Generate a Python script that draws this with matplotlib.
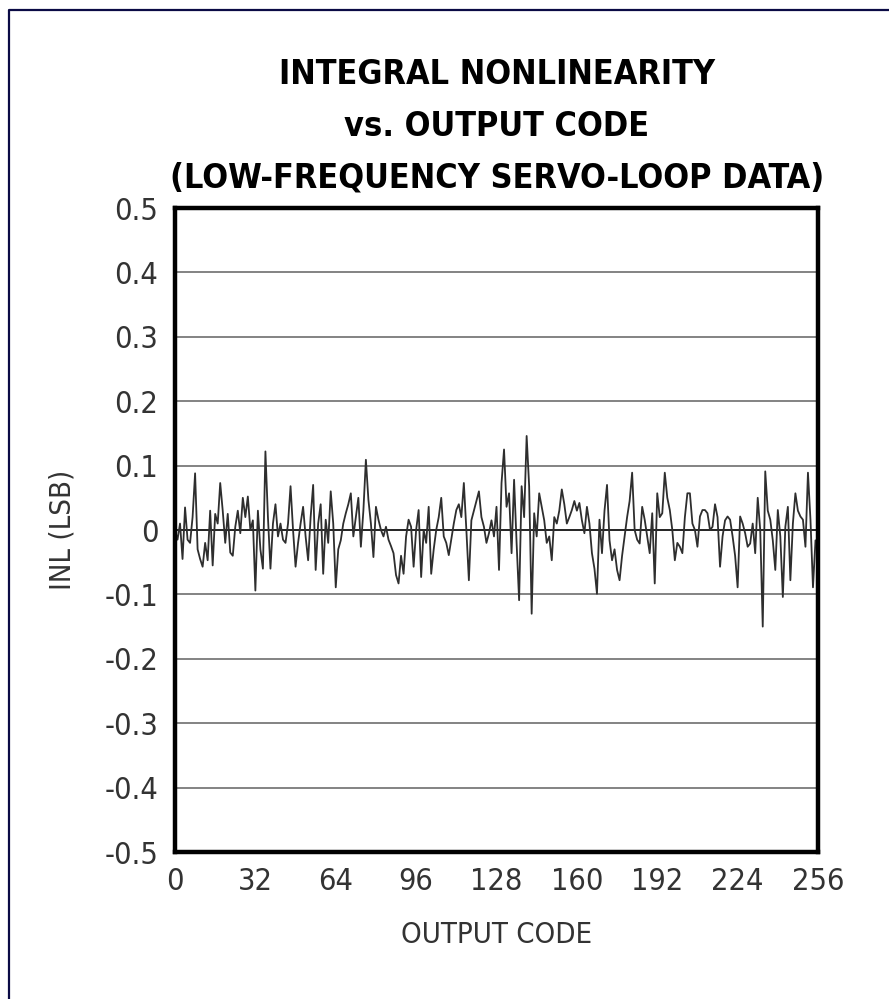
import matplotlib
matplotlib.use("Agg")
import matplotlib.pyplot as plt
from matplotlib.lines import Line2D

# INL per output code (LSB)
codes = list(range(257))
inl = [
    0.000, -0.015, 0.010, -0.045, 0.035, -0.015, -0.020, 0.020, 0.088, -0.030,
    -0.045, -0.057, -0.020, -0.047, 0.030, -0.055, 0.025, 0.010, 0.073, 0.030,
    -0.020, 0.025, -0.035, -0.040, 0.005, 0.030, -0.005, 0.050, 0.020, 0.052,
    0.000, 0.015, -0.094, 0.030, -0.030, -0.060, 0.122, 0.020, -0.060, 0.010,
    0.040, -0.010, 0.010, -0.015, -0.020, 0.010, 0.068, 0.000, -0.057, -0.020,
    0.010, 0.036, -0.010, -0.047, 0.020, 0.070, -0.062, 0.010, 0.040, -0.068,
    0.016, -0.020, 0.060, 0.010, -0.089, -0.030, -0.016, 0.010, 0.026, 0.040,
    0.057, -0.010, 0.020, 0.050, -0.026, 0.030, 0.109, 0.047, 0.010, -0.042,
    0.036, 0.016, 0.000, -0.010, 0.005, -0.015, -0.025, -0.036, -0.070, -0.083,
    -0.040, -0.068, -0.010, 0.016, 0.005, -0.057, 0.000, 0.031, -0.073, 0.000,
    -0.020, 0.036, -0.068, -0.030, 0.000, 0.020, 0.050, -0.010, -0.020, -0.039,
    -0.015, 0.010, 0.031, 0.040, 0.020, 0.073, 0.000, -0.078, 0.015, 0.030,
    0.045, 0.060, 0.020, 0.005, -0.020, -0.005, 0.015, -0.010, 0.036, -0.062,
    0.073, 0.125, 0.036, 0.057, -0.036, 0.078, -0.020, -0.109, 0.068, 0.020,
    0.146, 0.068, -0.130, 0.026, -0.010, 0.057, 0.036, 0.015, -0.020, -0.010,
    -0.047, 0.020, 0.010, 0.030, 0.063, 0.040, 0.010, 0.020, 0.031, 0.045,
    0.030, 0.042, 0.015, -0.005, 0.036, 0.010, -0.036, -0.060, -0.099, 0.016,
    -0.036, 0.030, 0.070, -0.016, -0.047, -0.030, -0.062, -0.078, -0.040, -0.010,
    0.020, 0.045, 0.089, 0.000, -0.015, -0.021, 0.036, 0.016, -0.010, -0.036,
    0.026, -0.083, 0.057, 0.020, 0.026, 0.089, 0.050, 0.031, 0.000, -0.047,
    -0.020, -0.026, -0.036, 0.020, 0.057, 0.057, 0.010, 0.000, -0.026, 0.021,
    0.031, 0.031, 0.026, 0.000, 0.005, 0.040, 0.020, -0.057, -0.010, 0.015,
    0.021, 0.016, -0.010, -0.040, -0.089, 0.021, 0.010, -0.005, -0.026, -0.021,
    0.010, -0.036, 0.050, 0.000, -0.150, 0.091, 0.030, 0.016, -0.016, -0.062,
    0.031, -0.010, -0.104, 0.005, 0.036, -0.078, 0.010, 0.057, 0.030, 0.021,
    0.016, -0.026, 0.089, 0.016, -0.089, -0.016, -0.030,
]

x_ticks = [0, 32, 64, 96, 128, 160, 192, 224, 256]
y_ticks = [0.5, 0.4, 0.3, 0.2, 0.1, 0.0, -0.1, -0.2, -0.3, -0.4, -0.5]
y_labels = ["0.5", "0.4", "0.3", "0.2", "0.1", "0", "-0.1", "-0.2", "-0.3", "-0.4", "-0.5"]

title_lines = ["INTEGRAL NONLINEARITY", "vs. OUTPUT CODE", "(LOW-FREQUENCY SERVO-LOOP DATA)"]

plt.rcParams["font.family"] = ["DejaVu Sans"]
plt.rcParams["font.stretch"] = "condensed"

W, H = 889, 999
fig = plt.figure(figsize=(W / 100, H / 100), dpi=100)
fig.patch.set_facecolor("white")

# navy frame (only top and left edges show in the reference)
frame_col = "#0b0b45"
fig.add_artist(Line2D([9 / W, 9 / W, 1.0], [0.0, 1 - 10 / H, 1 - 10 / H],
                      transform=fig.transFigure, color=frame_col, lw=1.6))

ax = fig.add_axes([175 / W, 1 - 852 / H, (818 - 175) / W, (852 - 208) / H])
ax.set_xlim(0, 256)
ax.set_ylim(-0.5, 0.5)

for y in y_ticks:
    if y in (0.5, -0.5):
        continue
    col = "#111111" if y == 0 else "#7a7a7a"
    ax.axhline(y, color=col, lw=1.3, zorder=1)

ax.plot(codes, inl, color="#2e2e2e", lw=1.3, zorder=2)

for s in ax.spines.values():
    s.set_linewidth(3.2)
    s.set_color("black")

ax.set_xticks(x_ticks)
ax.set_xticklabels([str(v) for v in x_ticks])
ax.set_yticks(y_ticks)
ax.set_yticklabels(y_labels)
ax.tick_params(length=0, labelsize=22, colors="#333333")
ax.tick_params(axis="x", pad=11)
ax.tick_params(axis="y", pad=12)

ax.set_xlabel("OUTPUT CODE", fontsize=21, color="#333333", labelpad=18)
ax.set_ylabel("INL (LSB)", fontsize=21, color="#333333", labelpad=20)

title_y = [75, 126, 178]
for line, yy in zip(title_lines, title_y):
    fig.text(497 / W, 1 - yy / H, line, ha="center", va="center", fontsize=24.5,
             fontweight="heavy", color="black")

fig.savefig("out.png", dpi=100)
